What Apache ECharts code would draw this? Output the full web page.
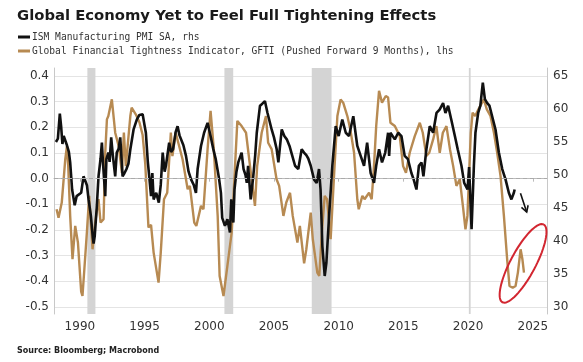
<!DOCTYPE html>
<html><head><meta charset="utf-8">
<script src="https://cdn.jsdelivr.net/npm/echarts@6/dist/echarts.min.js"></script>
<style>html,body{margin:0;padding:0;background:#fff}#c{width:583px;height:362px}</style>
</head><body><div id="c"></div>
<script>
// ---- data (decimal year, value) ----
const xTickYears = [1990,1995,2000,2005,2010,2015,2020,2025];
const leftTicks = [-0.5,-0.4,-0.3,-0.2,-0.1,0.0,0.1,0.2,0.3,0.4];
const rightTicks = [30,35,40,45,50,55,60,65];
const recessions = [[1990.58,1991.2],[2001.17,2001.85],[2007.92,2009.45],[2020.06,2020.2]];

const ismPMI = [
[1988.15,55.0],[1988.3,55.5],[1988.45,59.3],[1988.55,57.4],[1988.65,54.7],[1988.75,55.9],[1988.9,55.8],
[1989.0,54.5],[1989.15,53.5],[1989.25,51.9],[1989.4,47.8],[1989.6,45.4],[1989.75,46.8],[1989.9,46.5],
[1990.1,47.3],[1990.28,49.8],[1990.4,49.2],[1990.55,48.4],[1990.67,46.3],[1990.85,43.8],[1991.0,40.5],
[1991.06,39.6],[1991.15,40.8],[1991.3,45.0],[1991.44,49.8],[1991.6,52.5],[1991.7,54.9],[1991.8,51.4],
[1991.96,46.8],[1992.05,52.4],[1992.2,53.4],[1992.3,52.0],[1992.42,55.7],[1992.55,52.9],[1992.73,49.8],
[1992.85,53.4],[1993.0,54.0],[1993.12,55.7],[1993.3,49.8],[1993.45,50.3],[1993.6,50.9],[1993.75,51.7],
[1993.9,53.9],[1994.15,56.9],[1994.4,58.4],[1994.6,59.1],[1994.85,59.2],[1995.0,57.5],[1995.1,56.4],
[1995.25,52.0],[1995.36,49.8],[1995.5,46.8],[1995.6,50.3],[1995.7,46.3],[1995.9,47.3],[1996.1,45.8],
[1996.25,48.5],[1996.4,53.4],[1996.55,50.5],[1996.65,51.4],[1996.9,54.9],[1997.05,53.5],[1997.2,53.9],
[1997.4,56.5],[1997.55,57.4],[1997.7,56.0],[1997.8,55.9],[1998.0,54.5],[1998.2,52.9],[1998.4,50.5],
[1998.6,49.3],[1998.8,48.5],[1998.97,47.3],[1999.1,50.9],[1999.36,54.4],[1999.6,56.4],[1999.87,57.9],
[2000.1,55.9],[2000.3,54.0],[2000.5,52.4],[2000.75,49.5],[2000.9,47.3],[2001.0,43.5],[2001.21,42.3],
[2001.4,43.3],[2001.6,41.3],[2001.7,46.3],[2001.86,42.8],[2001.95,47.8],[2002.1,50.5],[2002.24,51.9],
[2002.5,53.4],[2002.65,50.9],[2002.8,50.0],[2002.9,48.8],[2003.0,51.4],[2003.2,46.3],[2003.4,49.8],
[2003.55,53.0],[2003.67,56.4],[2003.92,60.5],[2004.1,60.8],[2004.3,61.2],[2004.5,59.4],[2004.82,56.9],
[2005.0,55.7],[2005.2,54.0],[2005.34,51.9],[2005.6,56.9],[2005.8,55.9],[2005.99,55.4],[2006.2,54.4],
[2006.4,53.0],[2006.63,51.4],[2006.88,50.9],[2007.14,53.9],[2007.32,53.4],[2007.5,53.0],[2007.65,52.5],
[2007.84,51.4],[2008.1,49.3],[2008.3,48.8],[2008.48,50.9],[2008.6,47.8],[2008.74,39.2],[2008.92,34.7],
[2009.05,36.7],[2009.26,43.8],[2009.51,51.4],[2009.77,57.4],[2010.0,55.9],[2010.28,58.4],[2010.55,56.4],
[2010.8,55.9],[2011.13,58.9],[2011.44,54.4],[2011.7,52.9],[2011.96,51.4],[2012.2,54.9],[2012.47,50.3],
[2012.73,48.8],[2012.9,51.4],[2013.12,53.9],[2013.35,51.9],[2013.6,53.4],[2013.82,56.4],[2013.9,52.9],
[2014.0,56.4],[2014.34,55.4],[2014.6,56.4],[2014.85,55.9],[2015.1,52.9],[2015.35,52.4],[2015.62,50.3],
[2015.8,49.3],[2016.01,47.8],[2016.2,51.4],[2016.4,51.9],[2016.55,49.8],[2016.78,53.9],[2017.04,57.4],
[2017.3,56.4],[2017.56,59.4],[2017.8,59.9],[2018.07,60.9],[2018.25,59.4],[2018.46,60.5],[2018.7,58.4],
[2018.98,55.9],[2019.2,53.9],[2019.49,51.4],[2019.7,48.8],[2019.96,47.8],[2020.08,51.2],[2020.27,41.8],
[2020.45,51.4],[2020.57,56.4],[2020.78,59.4],[2020.95,60.5],[2021.14,64.0],[2021.3,61.5],[2021.48,60.9],
[2021.65,60.5],[2021.86,58.9],[2022.12,56.9],[2022.38,53.4],[2022.64,50.9],[2022.9,49.3],[2023.15,47.3],
[2023.35,46.3],[2023.54,47.3],[2023.6,47.8]
];

const gfti = [
[1988.2,-0.119],[1988.35,-0.152],[1988.6,-0.093],[1988.87,0.075],[1989.0,0.127],[1989.1,0.049],
[1989.25,-0.145],[1989.43,-0.314],[1989.64,-0.184],[1989.85,-0.249],[1990.1,-0.44],[1990.2,-0.457],
[1990.35,-0.35],[1990.54,-0.21],[1990.72,-0.067],[1990.85,-0.171],[1990.98,-0.275],[1991.18,-0.171],
[1991.44,-0.08],[1991.6,-0.171],[1991.83,-0.158],[1991.96,0.101],[1992.09,0.231],[1992.2,0.244],
[1992.47,0.309],[1992.73,0.179],[1993.0,0.127],[1993.25,0.023],[1993.4,0.18],[1993.55,0.049],
[1993.9,0.244],[1994.0,0.277],[1994.33,0.25],[1994.6,0.22],[1994.85,0.17],[1995.05,0.06],
[1995.3,-0.19],[1995.5,-0.18],[1995.7,-0.288],[1996.08,-0.405],[1996.25,-0.288],[1996.5,-0.08],
[1996.75,-0.055],[1997.03,0.18],[1997.15,0.088],[1997.4,0.18],[1997.94,0.075],[1998.33,-0.041],
[1998.5,-0.028],[1998.84,-0.171],[1999.0,-0.184],[1999.36,-0.106],[1999.55,-0.119],[1999.87,0.115],
[2000.1,0.264],[2000.35,0.115],[2000.65,-0.145],[2000.8,-0.379],[2001.1,-0.457],[2001.4,-0.34],
[2001.73,-0.21],[2001.99,0.049],[2002.17,0.225],[2002.5,0.205],[2002.84,0.179],[2003.15,0.049],
[2003.53,-0.106],[2003.7,0.049],[2004.05,0.179],[2004.38,0.244],[2004.55,0.14],[2004.82,0.115],
[2005.2,-0.002],[2005.4,-0.028],[2005.73,-0.145],[2005.95,-0.093],[2006.24,-0.055],[2006.45,-0.145],
[2006.81,-0.249],[2007.0,-0.184],[2007.33,-0.33],[2007.5,-0.275],[2007.84,-0.132],[2008.0,-0.236],
[2008.35,-0.366],[2008.5,-0.379],[2008.7,-0.21],[2008.92,-0.067],[2009.1,-0.08],[2009.38,-0.236],
[2009.64,0.01],[2009.9,0.244],[2010.15,0.309],[2010.35,0.296],[2010.67,0.244],[2010.9,0.192],
[2011.19,0.101],[2011.44,-0.08],[2011.55,-0.119],[2011.83,-0.067],[2012.0,-0.08],[2012.35,-0.055],
[2012.55,-0.08],[2012.73,0.049],[2012.9,0.205],[2013.12,0.342],[2013.35,0.296],[2013.64,0.322],
[2013.82,0.316],[2014.0,0.218],[2014.34,0.205],[2014.72,0.166],[2014.98,0.049],[2015.2,0.023],
[2015.49,0.101],[2015.88,0.166],[2016.27,0.218],[2016.5,0.179],[2016.78,0.088],[2017.0,0.101],
[2017.3,0.153],[2017.55,0.205],[2017.81,0.101],[2018.05,0.179],[2018.33,0.205],[2018.6,0.115],
[2018.85,0.049],[2019.1,-0.028],[2019.36,-0.002],[2019.6,-0.106],[2019.8,-0.197],[2019.95,-0.145],
[2020.21,0.179],[2020.35,0.257],[2020.55,0.244],[2020.8,0.27],[2021.22,0.309],[2021.45,0.27],
[2021.73,0.244],[2022.0,0.179],[2022.25,0.101],[2022.51,0.01],[2022.77,-0.145],[2023.02,-0.314],
[2023.2,-0.418],[2023.45,-0.425],[2023.67,-0.418],[2023.85,-0.366],[2024.06,-0.275],[2024.2,-0.314],
[2024.32,-0.366]
];

const ISM_NAME = 'ISM Manufacturing PMI SA, rhs';
const GFTI_NAME = 'Global Financial Tightness Indicator, GFTI (Pushed Forward 9 Months), lhs';

const chart = echarts.init(document.getElementById('c'), null, {renderer:'canvas'});
const sans = 'DejaVu Sans';
const mono = 'DejaVu Sans Mono';
const axisGray = '#c8c8c8';

const option = {
  animation: false,
  backgroundColor: '#fff',
  title: {
    text: 'Global Economy Yet to Feel Full Tightening Effects',
    left: 12, top: 4,
    textStyle: {fontFamily: sans, fontWeight: 'bold', fontSize: 14.8, color: '#1a1a1a'}
  },
  legend: {
    orient: 'vertical', left: 13, top: 27, itemGap: 4,
    itemWidth: 12, itemHeight: 3, icon: 'rect',
    data: [ISM_NAME, GFTI_NAME],
    textStyle: {fontFamily: mono, fontSize: 9.6, color: '#333', padding: [0,0,0,-3]},
    selectedMode: false
  },
  grid: [
    {left: 54, right: 36, top: 68, bottom: 48},
    {left: 54, right: 36, top: 76, bottom: 55}
  ],
  xAxis: [
    {type: 'value', gridIndex: 0, min: 1988, max: 2026.1,
     axisLine: {show: true, lineStyle: {color: '#bbb'}},
     axisTick: {show: true, customValues: xTickYears, length: 3, lineStyle: {color: '#bbb'}},
     axisLabel: {customValues: xTickYears, fontFamily: sans, fontSize: 12, color: '#333', margin: 7,
                 formatter: v => String(Math.round(v))},
     splitLine: {show: false}},
    {type: 'value', gridIndex: 1, min: 0, max: 1, show: false}
  ],
  yAxis: [
    {type: 'value', gridIndex: 0, position: 'left', min: -0.5272, max: 0.4312,
     axisLine: {show: true, lineStyle: {color: axisGray}}, axisTick: {show: false},
     axisLabel: {show: false}, splitLine: {show: false}},
    {type: 'value', gridIndex: 0, position: 'right', min: 28.94, max: 66.21,
     axisLine: {show: true, lineStyle: {color: axisGray}}, axisTick: {show: false},
     axisLabel: {show: false}, splitLine: {show: false}},
    {type: 'value', gridIndex: 1, position: 'left', min: -0.5, max: 0.4, interval: 0.1,
     axisLine: {show: false}, axisTick: {show: false},
     axisLabel: {fontFamily: sans, fontSize: 12, color: '#333', margin: 5,
                 formatter: v => v.toFixed(1)},
     splitLine: {show: true, lineStyle: {color: '#e4e4e4', width: 1}}},
    {type: 'value', gridIndex: 1, position: 'right', min: 30, max: 65, interval: 5,
     axisLine: {show: false}, axisTick: {show: false},
     axisLabel: {fontFamily: sans, fontSize: 12, color: '#333', margin: 6},
     splitLine: {show: false}}
  ],
  series: [
    {
      name: GFTI_NAME, type: 'line', xAxisIndex: 0, yAxisIndex: 0,
      data: gfti, showSymbol: false, symbol: 'none',
      lineStyle: {color: '#b78a52', width: 2.4}, itemStyle: {color: '#b78a52'},
      z: 3,
      markArea: {silent: true, itemStyle: {color: '#d4d4d4'},
        data: recessions.map(r => [{xAxis: r[0]}, {xAxis: r[1]}])},
      markLine: {silent: true, symbol: 'none', label: {show: false},
        lineStyle: {color: '#aaa', type: [4,3], width: 1},
        data: [{yAxis: 0}]}
    },
    {
      name: ISM_NAME, type: 'line', xAxisIndex: 0, yAxisIndex: 1,
      data: ismPMI, showSymbol: false, symbol: 'none',
      lineStyle: {color: '#111', width: 2.6}, itemStyle: {color: '#111'},
      z: 4
    }
  ]
};
chart.setOption(option);

// annotations: red ellipse around the recent GFTI trough and a down arrow after the ISM
const c0 = chart.convertToPixel({xAxisIndex: 0, yAxisIndex: 0}, [2024.25, -0.33]);
const a = 44, b = 12.5, ang = -62 * Math.PI / 180;
const ell = [];
for (let i = 0; i <= 72; i++) {
  const t = i / 72 * 2 * Math.PI;
  const ex = a * Math.cos(t), ey = b * Math.sin(t);
  ell.push([c0[0] + ex * Math.cos(ang) - ey * Math.sin(ang), c0[1] + ex * Math.sin(ang) + ey * Math.cos(ang)]);
}
const p1 = chart.convertToPixel({xAxisIndex: 0, yAxisIndex: 0}, [2024.05, -0.057]);
const p2 = chart.convertToPixel({xAxisIndex: 0, yAxisIndex: 0}, [2024.53, -0.13]);
const dx = p2[0] - p1[0], dy = p2[1] - p1[1], L = Math.hypot(dx, dy);
const ux = dx / L, uy = dy / L, hl = 6, hw = 3.5;
const h1 = [p2[0] - ux * hl - uy * hw, p2[1] - uy * hl + ux * hw];
const h2 = [p2[0] - ux * hl + uy * hw, p2[1] - uy * hl - ux * hw];

chart.setOption({
  graphic: [
    {type: 'polyline', shape: {points: ell}, style: {stroke: '#d22630', lineWidth: 2, fill: null}, z: 100},
    {type: 'line', shape: {x1: p1[0], y1: p1[1], x2: p2[0], y2: p2[1]}, style: {stroke: '#111', lineWidth: 1.6}, z: 100},
    {type: 'polyline', shape: {points: [h1, p2, h2]}, style: {stroke: '#111', lineWidth: 1.6, fill: null}, z: 100},
    {type: 'text', left: 17, top: 347,
     style: {text: 'Source: Bloomberg; Macrobond', font: 'bold 8px "DejaVu Sans"', fill: '#222'}}
  ]
});
</script></body></html>
